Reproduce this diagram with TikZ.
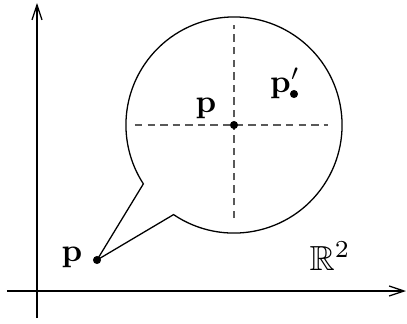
\documentclass[tikz,border=0pt]{standalone}
\usepackage{amsmath,amssymb}
\usetikzlibrary{arrows.meta,calc}

\begin{document}
\begin{tikzpicture}[
    x=0.31pt, y=0.31pt,
    axis/.style={line width=0.4pt, -{Straight Barb[length=4.6pt,width=3.1pt]}},
    guide/.style={dashed, dash pattern=on 2.3pt off 1.6pt, gray!70!black, line width=0.45pt},
    bubble/.style={line width=0.4pt, line join=miter},
    dot/.style={circle, fill=black, inner sep=0pt, minimum size=2.5pt},
    lbl/.style={inner sep=0pt}
]
  \useasboundingbox (0,0) rectangle (407,323);

  % axes
  \coordinate (xa) at (7,32);
  \coordinate (xb) at (406,32);
  \coordinate (ya) at (37,5);
  \coordinate (yb) at (37,320);
  \draw[axis] (xa) -- (xb);
  \draw[axis] (ya) -- (yb);

  % zoom bubble around p
  \coordinate (c) at (234,198);
  \node[dot] (p) at (97,63) {};
  \draw[bubble] ($(c)+(236:33.5pt)$) arc[start angle=236, end angle=573, radius=33.5pt]
    -- (p.center) -- cycle;

  % local frame in the bubble
  \coordinate (hl) at (135,198);
  \coordinate (hr) at (328,198);
  \coordinate (vt) at (234,298);
  \coordinate (vb) at (234,105);
  \draw[guide] (hl) -- (hr);
  \draw[guide] (vb) -- (vt);

  \node[dot] (pc) at (c) {};
  \node[dot] (pq) at (294,229) {};

  % labels
  \node[lbl] (plbl) at (72,66) {$\mathbf{p}$};
  \node[lbl] (pclbl) at (206,215) {$\mathbf{p}$};
  \node[lbl] (pqlbl) at (285,240) {$\mathbf{p}'$};
  \node[lbl, scale=1.08] (rlbl) at (330,67) {$\mathbb{R}^2$};
\end{tikzpicture}
\end{document}
